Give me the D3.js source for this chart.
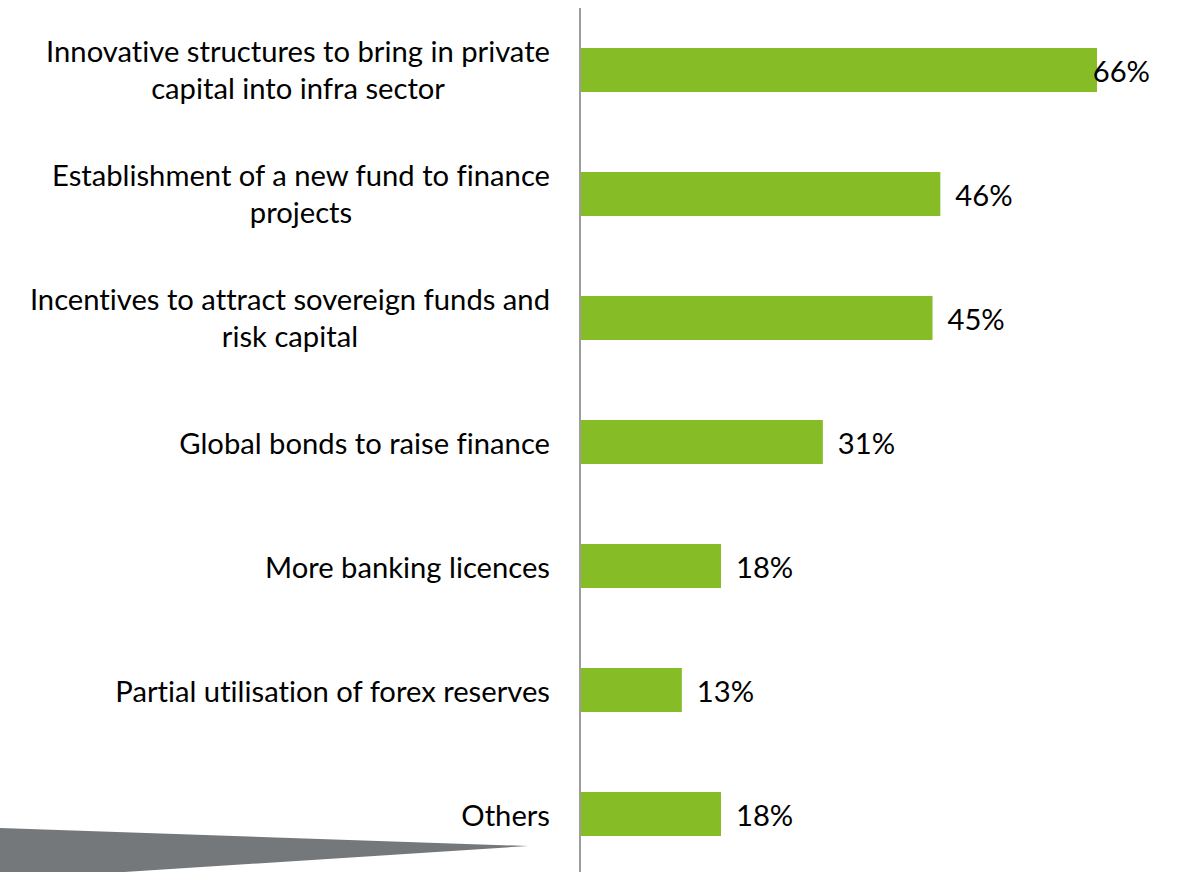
<!DOCTYPE html>
<html>
<head>
<meta charset="utf-8">
<script src="https://cdn.jsdelivr.net/npm/d3@7"></script>
<style>
  html, body { margin: 0; padding: 0; background: #fff; }
  svg { display: block; }
  text { font-variant-ligatures: none; font-feature-settings: "liga" 0, "clig" 0; }
</style>
</head>
<body>
<svg id="chart" width="1178" height="872"></svg>
<script>
// Survey responses: measures to finance infrastructure
const categories = [
  ["Innovative structures to bring in private", "capital into infra sector"],
  ["Establishment of a new fund to finance", "projects"],
  ["Incentives to attract sovereign funds and", "risk capital"],
  ["Global bonds to raise finance"],
  ["More banking licences"],
  ["Partial utilisation of forex reserves"],
  ["Others"]
];
const values = [66, 46, 45, 31, 18, 13, 18];

const W = 1178, H = 872;
const axisX = 580, labelRight = 550, rightLimit = 1150;
const font = "Lato, 'Open Sans', sans-serif";
const fontSize = 29.2;

const svg = d3.select("#chart");

// decorative grey wedge in the lower-left corner
svg.append("polygon")
  .attr("points", "0,828 528,846 0,880")
  .attr("fill", "#75787b");

const y = d3.scaleBand()
  .domain(d3.range(categories.length))
  .range([8, 876])
  .paddingInner(0.645)
  .paddingOuter(0.3225);

const x = d3.scaleLinear()
  .domain([0, 66])
  .range([axisX, 1097]);

// bars
svg.append("g").selectAll("rect")
  .data(values)
  .join("rect")
  .attr("x", x(0))
  .attr("y", (d, i) => y(i))
  .attr("width", d => x(d) - x(0))
  .attr("height", y.bandwidth())
  .attr("fill", "#86bc25");

// vertical category axis line
svg.append("line")
  .attr("x1", axisX).attr("x2", axisX)
  .attr("y1", 8).attr("y2", H)
  .attr("stroke", "#9d9d9d")
  .attr("stroke-width", 2);

// category labels, multi-line and centered within their block
const lineH = 37;
const labels = svg.append("g")
  .attr("font-family", font)
  .attr("font-size", fontSize)
  .attr("fill", "#000");

categories.forEach((lines, i) => {
  const cy = y(i) + y.bandwidth() / 2 - (lines.length > 1 ? 2 : 0);
  const t = labels.append("text")
    .attr("text-anchor", "middle")
    .attr("dominant-baseline", "central");
  // measure widest line to center the block against the right edge
  const tmp = labels.append("text").attr("visibility", "hidden");
  let maxW = 0;
  lines.forEach(l => { tmp.text(l); maxW = Math.max(maxW, tmp.node().getComputedTextLength()); });
  tmp.remove();
  const cx = labelRight - maxW / 2;
  lines.forEach((l, k) => {
    t.append("tspan")
      .attr("x", cx)
      .attr("y", cy + (k - (lines.length - 1) / 2) * lineH)
      .text(l);
  });
});

// value labels
const vals = svg.append("g")
  .attr("font-family", font)
  .attr("font-size", fontSize)
  .attr("fill", "#000");
values.forEach((v, i) => {
  const t = vals.append("text")
    .attr("dominant-baseline", "central")
    .attr("y", y(i) + y.bandwidth() / 2)
    .text(v + "%");
  const w = t.node().getComputedTextLength();
  t.attr("x", Math.min(x(v) + 15, rightLimit - w));
});
</script>
</body>
</html>
